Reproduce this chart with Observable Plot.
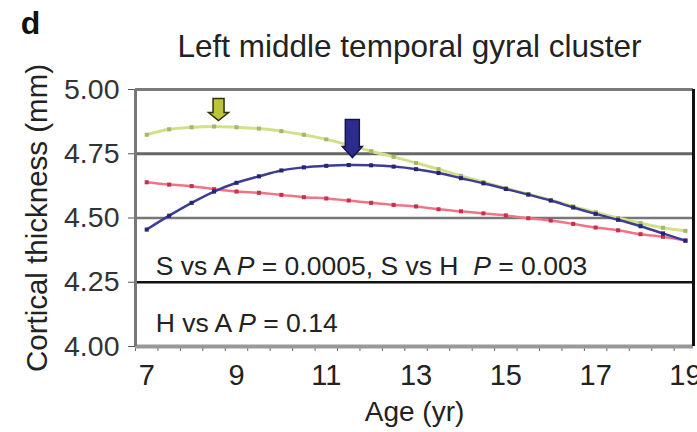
<!DOCTYPE html>
<html>
<head>
<meta charset="utf-8">
<script src="https://cdn.jsdelivr.net/npm/d3@7"></script>
<script src="https://cdn.jsdelivr.net/npm/@observablehq/plot@0.6"></script>
<style>
  html, body { margin: 0; padding: 0; background: #fff; overflow: hidden; }
  #chart svg { display: block; overflow: hidden; }
</style>
</head>
<body>
<div id="chart"></div>
<script>
// ---- data ----
const panelLabel = "d";
const title = "Left middle temporal gyral cluster";
const xLabel = "Age (yr)";
const yLabel = "Cortical thickness (mm)";

const ages = [7, 7.5, 8, 8.5, 9, 9.5, 10, 10.5, 11, 11.5, 12, 12.5, 13,
              13.5, 14, 14.5, 15, 15.5, 16, 16.5, 17, 17.5, 18, 18.5, 19];

// yellow-green curve (high), peak ~8.5 yr
const groupH = [4.824, 4.845, 4.853, 4.856, 4.853, 4.848, 4.838, 4.824, 4.806, 4.784,
                4.760, 4.738, 4.714, 4.690, 4.664, 4.640, 4.616, 4.593, 4.570, 4.545,
                4.522, 4.500, 4.480, 4.462, 4.450];
// blue curve (superior), peak ~11.5 yr
const groupS = [4.455, 4.509, 4.559, 4.603, 4.637, 4.662, 4.685, 4.697, 4.703, 4.706,
                4.705, 4.700, 4.690, 4.675, 4.655, 4.635, 4.613, 4.591, 4.568, 4.541,
                4.516, 4.493, 4.468, 4.440, 4.412];
// red curve (average), steady decline
const groupA = [4.639, 4.630, 4.624, 4.612, 4.603, 4.598, 4.590, 4.581, 4.576, 4.568,
                4.559, 4.551, 4.545, 4.534, 4.526, 4.518, 4.510, 4.499, 4.490, 4.477,
                4.463, 4.452, 4.437, 4.427, 4.412];

const yTicks = [4.00, 4.25, 4.50, 4.75, 5.00];
const xTickLabels = [7, 9, 11, 13, 15, 17, 19];

// peak arrows (age, thickness at arrow tip)
const arrowH = [{age: 8.6, value: 4.879}];
const arrowS = [{age: 11.58, value: 4.735}];

const statLines = [
  {label: "S vs A P = 0.0005, S vs H  P = 0.003", age: 7.2, value: 4.311},
  {label: "H vs A P = 0.14", age: 7.2, value: 4.089}
];

// ---- build table ----
const toRows = (vals, g) => ages.map((a, i) => ({age: a, value: vals[i], group: g}));
const rowsH = toRows(groupH, "H");
const rowsS = toRows(groupS, "S");
const rowsA = toRows(groupA, "A");

const minorTicks = d3.range(6.75, 19.2, 0.5);

const font = "'Liberation Sans', Arial, sans-serif";

function blockArrow(shaftW, shaftL, headW, headL) {
  return {
    draw(ctx) {
      ctx.moveTo(0, 0);
      ctx.lineTo(-headW / 2, -headL);
      ctx.lineTo(-shaftW / 2, -headL);
      ctx.lineTo(-shaftW / 2, -headL - shaftL);
      ctx.lineTo(shaftW / 2, -headL - shaftL);
      ctx.lineTo(shaftW / 2, -headL);
      ctx.lineTo(headW / 2, -headL);
      ctx.closePath();
    }
  };
}

const plot = Plot.plot({
  width: 697,
  height: 432,
  marginLeft: 135,
  marginRight: 4,
  marginTop: 89,
  marginBottom: 86,
  style: {fontFamily: font, background: "#fff", color: "#222"},
  x: {domain: [6.75, 19.18]},
  y: {domain: [4, 5]},
  marks: [
    // horizontal reference lines
    Plot.ruleY([5.00], {stroke: "#7a7a7a", strokeWidth: 3}),
    Plot.ruleY([4.75], {stroke: "#666", strokeWidth: 3}),
    Plot.ruleY([4.50], {stroke: "#777", strokeWidth: 2.5}),
    Plot.ruleY([4.25], {stroke: "#111", strokeWidth: 2.5}),
    // axes
    Plot.axisY(yTicks, {
      tickFormat: d3.format(".2f"), tickSize: 7, tickPadding: 9,
      fontSize: 28.5, stroke: "#555", fill: "#333", label: null
    }),
    Plot.axisX(minorTicks, {tickSize: 5, text: null, stroke: "#666", label: null}),
    Plot.axisX(xTickLabels, {
      tickSize: 0, tickPadding: 18, fontSize: 29, fill: "#222",
      tickFormat: d => String(d), label: null
    }),
    Plot.ruleY([4.00], {stroke: "#999", strokeWidth: 4}),
    Plot.ruleX([6.75], {y1: 4, y2: 5, stroke: "#777", strokeWidth: 3}),
    Plot.ruleX([19.18], {y1: 4, y2: 5, stroke: "#111", strokeWidth: 3}),

    // curves
    Plot.line(rowsA, {x: "age", y: "value", stroke: "#f07488", strokeWidth: 2.5, curve: "catmull-rom"}),
    Plot.dot(rowsA, {x: "age", y: "value", symbol: "square", r: 2.3, fill: "#c8304c"}),
    Plot.line(rowsH, {x: "age", y: "value", stroke: "#d2e08a", strokeWidth: 3, curve: "catmull-rom"}),
    Plot.dot(rowsH, {x: "age", y: "value", symbol: "square", r: 2.3, fill: "#a3b86a"}),
    Plot.line(rowsS, {x: "age", y: "value", stroke: "#3d3d96", strokeWidth: 2.5, curve: "catmull-rom"}),
    Plot.dot(rowsS, {x: "age", y: "value", symbol: "square", r: 2.3, fill: "#252572"}),

    // peak arrows
    Plot.dot(arrowH, {x: "age", y: "value", symbol: blockArrow(11, 14, 20, 8),
      fill: "#bcc43a", stroke: "#2e3010", strokeWidth: 1.5}),
    Plot.dot(arrowS, {x: "age", y: "value", symbol: blockArrow(14, 27, 20, 11),
      fill: "#2c2c8c", stroke: "#141450", strokeWidth: 1.5}),

    // statistics text
    Plot.text(statLines, {x: "age", y: "value", text: "label", textAnchor: "start",
      fontSize: 26.5, fill: "#222"}),

    // title, panel label, axis labels
    Plot.text([title], {frameAnchor: "top", lineAnchor: "middle", dx: -5, dy: -43,
      fontSize: 31.5, fill: "#222"}),
    Plot.text([panelLabel], {frameAnchor: "top-left", textAnchor: "middle", lineAnchor: "middle",
      dx: -105, dy: -66, fontSize: 32, fontWeight: "bold", fill: "#111"}),
    Plot.text([yLabel], {frameAnchor: "left", textAnchor: "middle", lineAnchor: "middle",
      dx: -98, rotate: -90, fontSize: 29.5, fill: "#222"}),
    Plot.text([xLabel], {frameAnchor: "bottom", lineAnchor: "middle", dy: 66,
      fontSize: 28, fill: "#222"})
  ]
});

document.getElementById("chart").appendChild(plot);

// italic P in statistics lines
d3.select(plot).selectAll("text").each(function() {
  const t = this.textContent;
  if (!t.includes(" P = ")) return;
  const sel = d3.select(this);
  sel.text(null).style("white-space", "pre").attr("xml:space", "preserve");
  const parts = t.split("P");
  parts.forEach((p, i) => {
    if (i > 0) sel.append("tspan").style("font-style", "italic").text("P");
    if (p) sel.append("tspan").text(p);
  });
});
</script>
</body>
</html>
